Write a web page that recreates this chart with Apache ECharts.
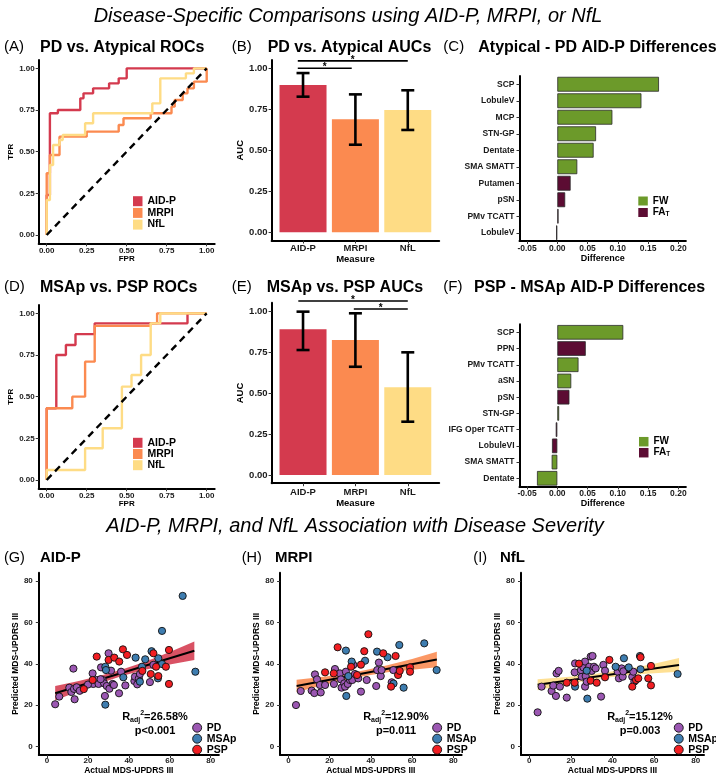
<!DOCTYPE html>
<html><head><meta charset="utf-8">
<script src="https://cdn.jsdelivr.net/npm/echarts@6/dist/echarts.min.js"></script>
<style>html,body{margin:0;padding:0;background:#fff}#c{width:716px;height:777px}</style>
</head><body><div id="c"></div>
<script>
// ---------------- DATA ----------------
const measures = ['AID-P', 'MRPI', 'NfL'];
const rocTicks = [0, 0.25, 0.5, 0.75, 1];
const aucTicks = [0, 0.25, 0.5, 0.75, 1];
const diffTicks = [-0.05, 0, 0.05, 0.10, 0.15, 0.20];
const severityTicks = [0, 20, 40, 60, 80];
const chanceLine = [[0, 0], [1, 1]];

// (A) PD vs Atypical ROC curves [FPR, TPR]
const rocA_AIDP = [[0,0],[0,0.24],[0.02,0.24],[0.02,0.73],[0.07,0.73],[0.07,0.75],[0.21,0.75],[0.21,0.82],[0.23,0.82],[0.23,0.85],[0.29,0.85],[0.29,0.88],[0.39,0.88],[0.39,0.91],[0.45,0.91],[0.45,0.94],[0.50,0.94],[0.50,1.0],[1.0,1.0]];
const rocA_MRPI = [[0,0],[0,0.37],[0.02,0.37],[0.02,0.48],[0.08,0.48],[0.08,0.59],[0.25,0.59],[0.25,0.62],[0.45,0.62],[0.45,0.66],[0.48,0.66],[0.48,0.70],[0.65,0.70],[0.65,0.73],[0.78,0.73],[0.78,0.77],[0.80,0.77],[0.80,0.81],[0.85,0.81],[0.85,0.85],[0.88,0.85],[0.88,0.88],[0.92,0.88],[0.92,0.92],[1.0,0.92],[1.0,1.0]];
const rocA_NfL = [[0,0],[0,0.21],[0.02,0.21],[0.02,0.42],[0.04,0.42],[0.04,0.54],[0.08,0.54],[0.08,0.57],[0.10,0.57],[0.10,0.60],[0.24,0.60],[0.24,0.67],[0.29,0.67],[0.29,0.73],[0.66,0.73],[0.66,0.79],[0.71,0.79],[0.71,0.94],[0.87,0.94],[0.87,0.97],[0.92,0.97],[0.92,1.0],[1.0,1.0]];

// (D) MSAp vs PSP ROC curves
const rocD_AIDP = [[0,0],[0,0.43],[0.06,0.43],[0.06,0.75],[0.12,0.75],[0.12,0.81],[0.18,0.81],[0.18,0.875],[0.30,0.875],[0.30,0.94],[0.88,0.94],[0.88,1.0],[1.0,1.0]];
const rocD_MRPI = [[0,0],[0,0.43],[0.16,0.43],[0.16,0.50],[0.24,0.50],[0.24,0.71],[0.30,0.71],[0.30,0.925],[0.65,0.925],[0.65,0.94],[0.69,0.94],[0.69,1.0],[1.0,1.0]];
const rocD_NfL = [[0,0],[0,0.06],[0.24,0.06],[0.24,0.19],[0.35,0.19],[0.35,0.31],[0.47,0.31],[0.47,0.56],[0.53,0.56],[0.53,0.63],[0.59,0.63],[0.59,0.75],[0.65,0.75],[0.65,0.94],[0.71,0.94],[0.71,1.0],[1.0,1.0]];

// (B) PD vs Atypical AUCs
const aucB = [0.898, 0.689, 0.746];
const aucB_lo = [0.827, 0.534, 0.624];
const aucB_hi = [0.971, 0.841, 0.866];
const sigB = [[0.9, 1.93, 1.0], [0.9, 3.0, 1.045]];   // [from, to, height]

// (E) MSAp vs PSP AUCs
const aucE = [0.888, 0.823, 0.535];
const aucE_lo = [0.762, 0.660, 0.325];
const aucE_hi = [0.996, 0.986, 0.748];
const sigE = [[0.91, 3.0, 1.061], [1.97, 3.0, 1.012]];

// (C) Atypical - PD AID-P differences
const regionsC = ['SCP','LobuleV','MCP','STN-GP','Dentate','SMA SMATT','Putamen','pSN','PMv TCATT','LobuleV'];
const diffC = [0.168, 0.139, 0.091, 0.064, 0.060, 0.033, 0.022, 0.013, 0.002, -0.002];
const typeC = ['FW','FW','FW','FW','FW','FW','FAT','FAT','FAT','FAT'];

// (F) PSP - MSAp AID-P differences
const regionsF = ['SCP','PPN','PMv TCATT','aSN','pSN','STN-GP','IFG Oper TCATT','LobuleVI','SMA SMATT','Dentate'];
const diffF = [0.109, 0.047, 0.035, 0.023, 0.020, 0.003, -0.0026, -0.0088, -0.0093, -0.0336];
const typeF = ['FW','FAT','FW','FW','FAT','FW','FAT','FAT','FW','FW'];

// (G) AID-P predicted vs actual MDS-UPDRS III
const gPD = [[4,20.5],[6,24.2],[10.9,28.5],[11.9,26.4],[13.2,27.9],[14.5,28.7],[12.9,37.7],[13.5,22.9],[22.3,35.4],[22.6,30.3],[24.3,32.2],[25.2,30.3],[26.4,38.3],[27.2,32.2],[27.9,30.6],[28.3,24.5],[29.2,29.3],[30.1,45.1],[30.5,28.0],[31.3,36.7],[32.1,30.3],[32.7,29.8],[35.2,25.8],[36.2,36.2],[38.3,29.6],[42.7,31.7],[43.0,33.8],[44.1,30.1],[44.9,33.0],[45.4,35.1],[50.3,31.2],[52,39.5],[26.2,32.6],[20,30],[16,27]];
const gMSAp = [[28.5,20.3],[28.5,38.6],[28.8,37.0],[37.3,33.5],[43.3,43.0],[48.0,42.2],[46.4,38.6],[51.1,46.1],[54.2,33.0],[54.4,42.7],[56.2,55.9],[56.2,39.9],[66.3,72.8],[72.5,36.2],[45.4,31.4]];
const gPSP = [[18,27.8],[22.3,32.2],[24.3,43.5],[30.1,41.9],[32.9,43.0],[35.3,41.1],[37.1,47.0],[39.1,44.3],[46.6,36.6],[50.7,35.1],[52.0,45.1],[53.3,38.6],[54.4,34.1],[58.1,38.6],[59.6,46.7],[59.6,30.3]];
const gFit = [[4,25.8],[72,46.3]];
const bandX = [4, 15, 26, 37, 48, 60, 72];
const gLo = [22.3, 26.6, 30.6, 34.2, 37.2, 39.7, 41.8];
const gHi = [29.3, 31.6, 34.2, 37.4, 41.0, 45.7, 50.8];

// (H) MRPI
const hPD = [[3.7,20.1],[6.0,26.9],[11.3,27.1],[12.6,25.9],[12.9,34.9],[13.9,32.5],[15.3,29.8],[17.8,29.8],[22.6,37.5],[22.1,30.3],[25.0,35.4],[25.5,32.5],[25.8,28.5],[27.1,30.6],[27.5,29.0],[27.9,36.2],[28.8,30.3],[29.9,32.2],[31.0,32.2],[31.5,39.5],[32.3,35.1],[33.9,33.0],[35.2,26.6],[38.0,32.2],[42.6,29.3],[43.1,37.0],[43.9,40.6],[44.8,34.1],[45.2,37.0],[50.1,31.1],[50.9,37.0],[15.7,26.2]];
const hMSAp = [[27.9,46.4],[30.7,41.1],[28.1,24.5],[37.2,41.5],[43.0,45.9],[48.1,43.2],[53.8,49.1],[55.9,28.5],[65.9,49.9],[71.9,37.0],[29.1,34.1],[51,30.5]];
const hPSP = [[17.8,35.9],[23.9,48.0],[22.0,35.4],[30.4,38.6],[33.3,34.6],[35.2,39.6],[36.8,46.1],[38.8,54.3],[46.0,45.1],[49.8,29.0],[52.0,43.8],[53.2,34.6],[54.0,36.6],[59.0,38.3],[59.0,36.2]];
const hFit = [[4,29.3],[72,42.1]];
const hLo = [26.3, 29.3, 31.9, 34.1, 35.9, 37.2, 38.4];
const hHi = [32.3, 33.5, 34.9, 36.9, 39.3, 42.4, 45.8];

// (I) NfL
const iPD = [[4.0,16.6],[5.9,29.0],[10.7,26.9],[11.5,29.5],[12.8,24.5],[13.1,35.4],[14.1,36.6],[14.7,29.0],[18.0,23.7],[22.0,40.2],[21.8,35.9],[25.2,33.8],[24.8,37.0],[26.0,38.3],[26.8,41.1],[27.1,34.1],[27.9,37.0],[28.8,38.6],[29.5,43.5],[30.0,36.6],[30.4,43.8],[31.1,38.6],[31.9,37.8],[26.8,29.0],[27.6,31.4],[34.5,24.2],[35.6,39.5],[36.4,36.7],[42.5,36.2],[43.1,33.0],[44.4,37.8],[44.9,33.8],[45.2,36.4],[49.5,33.8],[50.0,36.2],[50.5,31.4]];
const iMSAp = [[22.0,29.0],[27.6,36.7],[27.9,23.2],[41.5,38.6],[45.5,42.7],[47.8,38.3],[53.2,43.8],[53.5,37.4],[71.3,35.1]];
const iPSP = [[18.0,30.9],[21.8,30.9],[23.9,40.1],[29.5,31.9],[32.4,30.9],[36.4,33.5],[38.5,41.9],[49.5,29.0],[51.3,32.2],[52.4,33.0],[53.5,43.2],[57.2,33.0],[58.5,39.0],[58.5,29.6]];
const iFit = [[4,29.9],[72,39.5]];
const iLo = [27.2, 29.6, 31.6, 33.3, 34.6, 35.5, 36.2];
const iHi = [32.6, 33.4, 34.4, 35.9, 37.6, 40.1, 42.8];

const rAdj = ['26.58%', '12.90%', '15.12%'];
const pVals = ['p<0.001', 'p=0.011', 'p=0.003'];

// ---------------- STYLE ----------------
const FONT = '"Liberation Sans", Arial, Helvetica, sans-serif';
const measureColors = ['#D43A4E', '#FB8A50', '#FEDC85'];
const typeColors = { FW: '#6C9A2A', FAT: '#5C0C33' };
const groupColors = { PD: '#9B57B2', MSAp: '#3E7DB0', PSP: '#F21E22' };
const bandColors = ['#D43A4E', '#FB8A50', '#FEDC85'];

const grids = [
  { left: 38.7, top: 60, width: 176, height: 183.3 },
  { left: 271.6, top: 60.1, width: 167.6, height: 180.4 },
  { left: 519.5, top: 76, width: 166.4, height: 165 },
  { left: 38.7, top: 305, width: 176, height: 183.3 },
  { left: 271.6, top: 302.8, width: 167.6, height: 180.4 },
  { left: 519.5, top: 324.2, width: 166.4, height: 162.2 },
  { left: 38.8, top: 572.7, width: 180.1, height: 182.3 },
  { left: 280.1, top: 572.7, width: 181.5, height: 182.3 },
  { left: 521, top: 572.7, width: 183, height: 182.3 }
].map(g => Object.assign({ outerBoundsMode: 'none', containLabel: false }, g));

function valAxis(gi, min, max, ticks, fmt, name, nameGap, fs, nfs, margin) {
  return {
    type: 'value', gridIndex: gi, min: min, max: max, name: name, nameLocation: 'middle', nameGap: nameGap,
    nameTextStyle: { fontFamily: FONT, fontWeight: 'bold', fontSize: nfs, color: '#000' },
    axisLine: { show: true, onZero: false, lineStyle: { color: '#000', width: 2 } },
    axisTick: { show: true, length: 3, customValues: ticks, lineStyle: { color: '#333', width: 1 } },
    axisLabel: { show: true, customValues: ticks, formatter: fmt, margin: margin, fontFamily: FONT, fontWeight: 'bold', fontSize: fs, color: '#1a1a1a' },
    splitLine: { show: false }
  };
}
function catAxis(gi, data, name, fs) {
  return {
    type: 'category', gridIndex: gi, data: data, inverse: true, name: name,
    axisLine: { show: true, onZero: false, lineStyle: { color: '#000', width: 2 } },
    axisTick: { show: true, alignWithLabel: true, length: 3, lineStyle: { color: '#333', width: 1 } },
    axisLabel: { interval: 0, margin: 5, fontFamily: FONT, fontWeight: 'bold', fontSize: fs, color: '#1a1a1a' },
    splitLine: { show: false }
  };
}
const f2 = v => Number(v).toFixed(2);
const fm = v => measures[Math.round(v) - 1] || '';
const f0 = v => String(Math.round(v));

const xAxes = [
  valAxis(0, -0.05, 1.05, rocTicks, f2, 'FPR', 11, 8, 8, 3),
  valAxis(1, 0.4, 3.6, [1, 2, 3], fm, 'Measure', 12, 9.5, 9.5, 3),
  valAxis(2, -0.0625, 0.2125, diffTicks, f2, 'Difference', 11, 8.5, 9, 3),
  valAxis(3, -0.05, 1.05, rocTicks, f2, 'FPR', 10, 8, 8, 3),
  valAxis(4, 0.4, 3.6, [1, 2, 3], fm, 'Measure', 12.5, 9.5, 9.5, 4),
  valAxis(5, -0.0625, 0.2125, diffTicks, f2, 'Difference', 12, 8.5, 9, 3),
  valAxis(6, -4, 84, severityTicks, f0, 'Actual MDS-UPDRS III', 10, 8, 8.5, 2),
  valAxis(7, -4, 84, severityTicks, f0, 'Actual MDS-UPDRS III', 10, 8, 8.5, 2),
  valAxis(8, -4, 84, severityTicks, f0, 'Actual MDS-UPDRS III', 10, 8, 8.5, 2)
];
const yAxes = [
  valAxis(0, -0.05, 1.05, rocTicks, f2, 'TPR', 23, 8, 8, 4),
  valAxis(1, -0.05, 1.05, aucTicks, f2, 'AUC', 26, 9.5, 9.5, 4),
  catAxis(2, regionsC, '', 8.5),
  valAxis(3, -0.05, 1.05, rocTicks, f2, 'TPR', 23, 8, 8, 4),
  valAxis(4, -0.05, 1.05, aucTicks, f2, 'AUC', 26, 9.5, 9.5, 4),
  catAxis(5, regionsF, '', 8.5),
  valAxis(6, -4, 84, severityTicks, f0, 'Predicted MDS-UPDRS III', 19, 8, 8.5, 6),
  valAxis(7, -4, 84, severityTicks, f0, 'Predicted MDS-UPDRS III', 17, 8, 8.5, 6),
  valAxis(8, -4, 84, severityTicks, f0, 'Predicted MDS-UPDRS III', 13, 8, 8.5, 6)
];

// ---------------- SERIES ----------------
const series = [];
function rocSeries(gi, curves) {
  curves.forEach((c, i) => series.push({
    type: 'line', name: measures[i], xAxisIndex: gi, yAxisIndex: gi, data: c, symbol: 'none',
    color: measureColors[i], itemStyle: { color: measureColors[i] },
    lineStyle: { width: 2.4, color: measureColors[i] }, z: 3 + i
  }));
  series.push({ type: 'line', name: 'chance' + gi, xAxisIndex: gi, yAxisIndex: gi, data: chanceLine, symbol: 'none',
    lineStyle: { color: '#000', width: 2.4, type: [7, 5] }, z: 8 });
}
function errorBarRender(params, api) {
  const x = api.value(0), lo = api.value(1), hi = api.value(2);
  const a = api.coord([x, hi]), b = api.coord([x, lo]);
  const hw = 6.5, st = { stroke: '#000', lineWidth: 2.6 };
  return { type: 'group', children: [
    { type: 'line', shape: { x1: a[0], y1: a[1], x2: b[0], y2: b[1] }, style: st },
    { type: 'line', shape: { x1: a[0] - hw, y1: a[1], x2: a[0] + hw, y2: a[1] }, style: st },
    { type: 'line', shape: { x1: b[0] - hw, y1: b[1], x2: b[0] + hw, y2: b[1] }, style: st }
  ] };
}
function bracketRender(params, api) {
  const x1 = api.value(0), x2 = api.value(1), y = api.value(2);
  const a = api.coord([x1, y]), b = api.coord([x2, y]);
  return { type: 'group', children: [
    { type: 'line', shape: { x1: a[0], y1: a[1], x2: b[0], y2: b[1] }, style: { stroke: '#000', lineWidth: 1.6 } },
    { type: 'text', x: (a[0] + b[0]) / 2, y: a[1] - 1, style: { text: '*', font: 'bold 10px ' + FONT, fill: '#000', align: 'center', verticalAlign: 'middle' } }
  ] };
}
// confidence ribbon: one polygon through the (x, lo, hi) rows, mapped by the axes
function bandRender(params, api) {
  if (params.dataIndexInside !== 0) return null;
  const n = params.dataInsideLength;
  const upper = [], lower = [];
  for (let i = 0; i < n; i++) {
    const x = api.value(0, i);
    upper.push(api.coord([x, api.value(2, i)]));
    lower.push(api.coord([x, api.value(1, i)]));
  }
  return { type: 'polygon', shape: { points: upper.concat(lower.reverse()), smooth: 0 },
    style: { fill: api.visual('color'), opacity: 0.88 } };
}
function aucSeries(gi, vals, lo, hi, sig) {
  series.push({ type: 'bar', name: 'auc' + gi, xAxisIndex: gi, yAxisIndex: gi, barWidth: 47,
    data: vals.map((v, i) => ({ value: [i + 1, v], itemStyle: { color: measureColors[i] } })), z: 2 });
  series.push({ type: 'custom', name: 'err' + gi, xAxisIndex: gi, yAxisIndex: gi, renderItem: errorBarRender,
    encode: { x: 0, y: [1, 2] }, data: vals.map((v, i) => [i + 1, lo[i], hi[i]]), z: 5, clip: false });
  series.push({ type: 'custom', name: 'sig' + gi, xAxisIndex: gi, yAxisIndex: gi, renderItem: bracketRender,
    encode: { x: [0, 1], y: 2 }, data: sig, z: 5, clip: false });
}
function diffSeries(gi, vals, types) {
  ['FW', 'FAT'].forEach(t => series.push({
    type: 'bar', name: t, xAxisIndex: gi, yAxisIndex: gi, barWidth: '90%', barGap: '-100%',
    color: typeColors[t],
    data: vals.map((v, i) => types[i] === t ? v : '-'),
    itemStyle: { color: typeColors[t], borderColor: '#2a2a2a', borderWidth: 0.8 }
  }));
}
function severitySeries(gi, k, pd, msa, psp, fit, lo, hi) {
  series.push({ type: 'custom', name: 'band' + gi, xAxisIndex: gi, yAxisIndex: gi, renderItem: bandRender,
    color: bandColors[k], encode: { x: 0, y: [1, 2] },
    data: bandX.map((x, i) => [x, lo[i], hi[i]]), z: 1 });
  series.push({ type: 'line', name: 'fit' + gi, xAxisIndex: gi, yAxisIndex: gi, symbol: 'none', data: fit,
    lineStyle: { color: '#000', width: 2 }, z: 2 });
  [['PD', pd], ['MSAp', msa], ['PSP', psp]].forEach(([n, d]) => series.push({
    type: 'scatter', name: n, xAxisIndex: gi, yAxisIndex: gi, data: d, symbolSize: 7.2,
    color: groupColors[n], itemStyle: { color: groupColors[n], borderColor: '#111', borderWidth: 0.9, opacity: 1 }, z: 4
  }));
}

rocSeries(0, [rocA_AIDP, rocA_MRPI, rocA_NfL]);
aucSeries(1, aucB, aucB_lo, aucB_hi, sigB);
diffSeries(2, diffC, typeC);
rocSeries(3, [rocD_AIDP, rocD_MRPI, rocD_NfL]);
aucSeries(4, aucE, aucE_lo, aucE_hi, sigE);
diffSeries(5, diffF, typeF);
severitySeries(6, 0, gPD, gMSAp, gPSP, gFit, gLo, gHi);
severitySeries(7, 1, hPD, hMSAp, hPSP, hFit, hLo, hHi);
severitySeries(8, 2, iPD, iMSAp, iPSP, iFit, iLo, iHi);

// ---------------- LEGENDS ----------------
function legend(names, left, top, icon, w, h, gap, fs, lh) {
  return {
    data: names, left: left, top: top, orient: 'vertical', icon: icon, itemWidth: w, itemHeight: h, itemGap: gap,
    padding: 0, selectedMode: false, itemStyle: { borderWidth: icon === 'circle' ? 0.9 : 0, borderColor: '#111' },
    formatter: n => n === 'FAT' ? '{a|FA}{t|T}' : '{a|' + n + '}',
    textStyle: { fontFamily: FONT, fontWeight: 'bold', fontSize: fs, color: '#000', lineHeight: lh,
      rich: { a: { fontFamily: FONT, fontWeight: 'bold', fontSize: fs, color: '#000', lineHeight: lh, verticalAlign: 'middle' },
              t: { fontFamily: FONT, fontWeight: 'bold', fontSize: fs * 0.65, color: '#000', lineHeight: lh * 0.5, verticalAlign: 'bottom' } } }
  };
}
const legends = [
  legend(measures, 133, 195.7, 'rect', 9.5, 10, 0.7, 10.5, 10),
  legend(measures, 133, 437.3, 'rect', 9.5, 10, 0.2, 10.5, 10),
  legend(['FW', 'FAT'], 638.3, 196, 'rect', 9.5, 9, 1.5, 10, 10),
  legend(['FW', 'FAT'], 639, 436.7, 'rect', 9.5, 9.5, 1, 10, 10),
  legend(['PD', 'MSAp', 'PSP'], 192.2, 722.2, 'circle', 9, 9, 0, 10.5, 9),
  legend(['PD', 'MSAp', 'PSP'], 432.2, 722.2, 'circle', 9, 9, 0, 10.5, 9),
  legend(['PD', 'MSAp', 'PSP'], 673.8, 722.2, 'circle', 9, 9, 0, 10.5, 9)
];

// ---------------- TEXT ----------------
function txt(text, x, y, font, align) {
  return { type: 'text', x: x, y: y, z: 10, style: { text: text, font: font + ' ' + FONT, fill: '#000', align: align || 'left', verticalAlign: 'middle' } };
}
function statText(k, cx) {
  return [
    { type: 'text', x: cx, y: 716.7, z: 10, style: {
      text: '{r|R}{s|adj}{p|2}{r|=' + rAdj[k] + '}', align: 'center', verticalAlign: 'middle',
      rich: { r: { font: 'bold 11px ' + FONT, fill: '#000', lineHeight: 14, verticalAlign: 'middle' },
              s: { font: 'bold 7px ' + FONT, fill: '#000', lineHeight: 7, verticalAlign: 'bottom' },
              p: { font: 'bold 7px ' + FONT, fill: '#000', lineHeight: 7, verticalAlign: 'top' } } } },
    txt(pVals[k], cx, 730.7, 'bold 11px', 'center')
  ];
}
const graphics = [
  txt('Disease-Specific Comparisons using AID-P, MRPI, or NfL', 348, 16, 'italic 20px', 'center'),
  txt('AID-P, MRPI, and NfL Association with Disease Severity', 355, 526, 'italic 20px', 'center'),
  txt('(A)', 4, 47.3, '15px'), txt('PD vs. Atypical ROCs', 40, 47.3, 'bold 16px'),
  txt('(B)', 231.7, 47.3, '15px'), txt('PD vs. Atypical AUCs', 267.7, 47.3, 'bold 16px'),
  txt('(C)', 443.3, 47.3, '15px'), txt('Atypical - PD AID-P Differences', 478.3, 47.3, 'bold 16px'),
  txt('(D)', 4, 287.3, '15px'), txt('MSAp vs. PSP ROCs', 40, 287.3, 'bold 16px'),
  txt('(E)', 231.7, 287.3, '15px'), txt('MSAp vs. PSP AUCs', 266.7, 287.3, 'bold 16px'),
  txt('(F)', 443.3, 287.3, '15px'), txt('PSP - MSAp AID-P Differences', 474, 287.3, 'bold 16px'),
  txt('(G)', 4, 558, '14.5px'), txt('AID-P', 40, 558, 'bold 15px'),
  txt('(H)', 241.7, 558, '14.5px'), txt('MRPI', 275, 558, 'bold 15px'),
  txt('(I)', 473.3, 558, '14.5px'), txt('NfL', 500, 558, 'bold 15px')
].concat(statText(0, 155), statText(1, 396), statText(2, 640));

const chart = echarts.init(document.getElementById('c'), null, { renderer: 'canvas' });
chart.setOption({
  animation: false,
  backgroundColor: '#fff',
  grid: grids,
  xAxis: xAxes,
  yAxis: yAxes,
  legend: legends,
  series: series,
  graphic: graphics
});
</script></body></html>
